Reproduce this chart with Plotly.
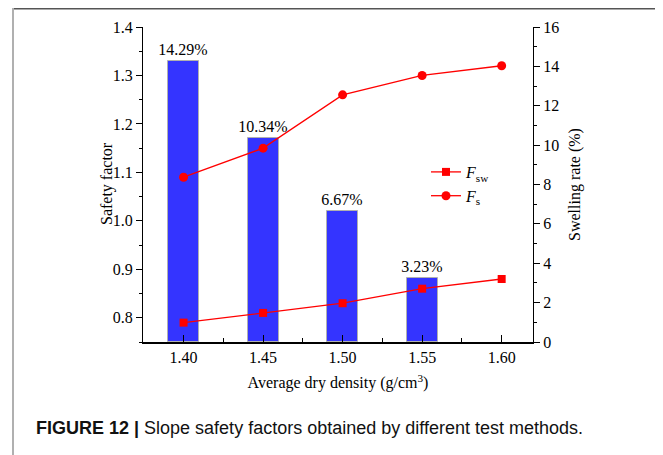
import plotly.graph_objects as go

density = [1.40, 1.45, 1.50, 1.55, 1.60]
swelling_density = [1.40, 1.45, 1.50, 1.55]
swelling_rate = [14.29, 10.34, 6.67, 3.23]
f_sw = [0.79, 0.81, 0.83, 0.86, 0.88]
f_s = [1.09, 1.15, 1.26, 1.30, 1.32]
x_ticks = [1.40, 1.45, 1.50, 1.55, 1.60]
x_tick_labels = ["1.40", "1.45", "1.50", "1.55", "1.60"]

SERIF = "Liberation Serif, Times New Roman, serif"

# page body keeps its default 8px margin; figure is placed so that screen = figure + 8
OFF = 8
W, H = 663 - OFF, 455 - OFF
L, T = 143 - OFF, 27 - OFF
R = W - (533 - OFF)
B = H - (342 - OFF)
pw, ph = W - L - R, H - T - B

def px(xs):
    return (xs - OFF - L) / pw

def py(ys):
    return (H - B - (ys - OFF)) / ph

fig = go.Figure()
fig.add_trace(go.Bar(
    x=swelling_density, y=swelling_rate, width=0.0195,
    marker=dict(color="#3434FF", line=dict(color="#b0b0b0", width=1)),
    text=[f"{v:.2f}%" for v in swelling_rate], textposition="outside",
    textfont=dict(family=SERIF, size=16, color="black"), constraintext="none",
    cliponaxis=False, showlegend=False, yaxis="y", xaxis="x",
))
fig.add_trace(go.Scatter(
    x=density, y=f_sw, mode="lines+markers", name="<i>F</i><sub>sw</sub>",
    line=dict(color="#FF0000", width=1.3),
    marker=dict(symbol="square", size=8, color="#FF0000"), yaxis="y2",
))
fig.add_trace(go.Scatter(
    x=density, y=f_s, mode="lines+markers", name="<i>F</i><sub>s</sub>",
    line=dict(color="#FF0000", width=1.3),
    marker=dict(symbol="circle", size=9, color="#FF0000"), yaxis="y2",
))

fig.update_layout(
    width=W, height=H, margin=dict(l=L, r=R, t=T, b=B),
    paper_bgcolor="white", plot_bgcolor="white",
    font=dict(family=SERIF, size=16, color="black"),
    bargap=0,
    xaxis=dict(
        range=[1.3745, 1.6197], tickvals=x_ticks, ticktext=x_tick_labels,
        ticks="inside", ticklen=7, tickwidth=1, tickcolor="black",
        minor=dict(dtick=0.025, tick0=1.375, ticks="inside", ticklen=4, tickwidth=1, tickcolor="black"),
        showline=True, linecolor="black", linewidth=2, showgrid=False, zeroline=False,
        title=dict(text="Average dry density (g/cm<sup>3</sup>)", font=dict(family=SERIF, size=16), standoff=12),
        tickfont=dict(family=SERIF, size=16),
    ),
    yaxis=dict(
        side="right", range=[0, 16], dtick=2, tick0=0,
        ticks="outside", ticklen=6, tickwidth=1, tickcolor="black",
        minor=dict(dtick=1, ticks="outside", ticklen=3, tickwidth=1, tickcolor="black"),
        showline=True, linecolor="black", linewidth=1.3, showgrid=False, zeroline=False,
        title=dict(text="Swelling rate (%)", font=dict(family=SERIF, size=16), standoff=10),
        tickfont=dict(family=SERIF, size=16),
    ),
    yaxis2=dict(
        overlaying="y", side="left", range=[0.75, 1.4], tickvals=[0.8, 0.9, 1.0, 1.1, 1.2, 1.3, 1.4],
        ticktext=["0.8", "0.9", "1.0", "1.1", "1.2", "1.3", "1.4"],
        ticks="outside", ticklen=6, tickwidth=1, tickcolor="black",
        minor=dict(dtick=0.05, tick0=0.75, ticks="outside", ticklen=3, tickwidth=1, tickcolor="black"),
        showline=True, linecolor="black", linewidth=1.3, showgrid=False, zeroline=False,
        tickfont=dict(family=SERIF, size=16),
    ),
    legend=dict(
        x=px(426), y=py(155), xanchor="left", yanchor="top",
        bgcolor="rgba(0,0,0,0)", font=dict(family=SERIF, size=16),
        itemwidth=30, tracegroupgap=0,
    ),
    showlegend=True,
    shapes=[
        dict(type="line", xref="paper", yref="paper", x0=px(13), x1=px(663), y0=py(OFF + 0.5), y1=py(OFF + 0.5),
             line=dict(color="#555555", width=2), layer="above"),
        dict(type="line", xref="paper", yref="paper", x0=px(13), x1=px(13), y0=py(OFF), y1=py(460),
             line=dict(color="#b0b0b0", width=2), layer="above"),
        dict(type="line", xref="paper", yref="paper", x0=px(661), x1=px(661), y0=py(OFF), y1=py(460),
             line=dict(color="#b0b0b0", width=2), layer="above"),
    ],
)

fig.add_annotation(
    xref="paper", yref="paper", x=px(107), y=py(184), xanchor="center", yanchor="middle",
    text="Safety factor", textangle=-90, showarrow=False,
    font=dict(family=SERIF, size=16, color="black"),
)

fig.add_annotation(
    xref="paper", yref="paper", x=px(34), y=py(428), xanchor="left", yanchor="middle",
    text="<b>FIGURE 12 |</b> Slope safety factors obtained by different test methods.",
    showarrow=False, font=dict(family="Liberation Sans, Arial, sans-serif", size=18, color="#111111"),
)

fig.write_html("out.html", config={"displayModeBar": False})
